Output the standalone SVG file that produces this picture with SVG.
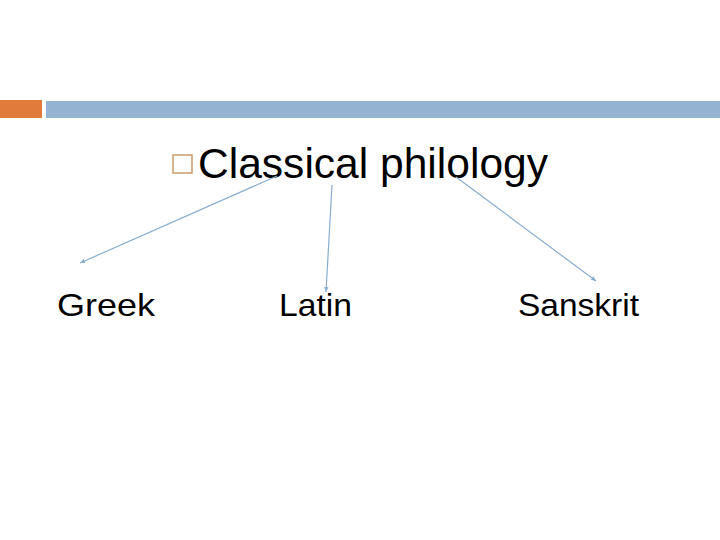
<svg xmlns="http://www.w3.org/2000/svg" width="720" height="540" viewBox="0 0 720 540">
<defs>
<style>
.t{font-family:"Liberation Sans",Arial,sans-serif;fill:#000}
.c{stroke:#8aaed0;stroke-width:1.2;fill:none;marker-end:url(#ah)}
</style>
<marker id="ah" markerWidth="6" markerHeight="6" refX="5" refY="3" orient="auto" markerUnits="userSpaceOnUse">
<path d="M0,0.8 L5,3 L0,5.2 z" fill="#8aaed0"/>
</marker>
</defs>
<rect width="720" height="540" fill="#fff"/>
<g id="header">
<rect x="0" y="100" width="42" height="18" fill="#e07b39"/>
<rect x="46" y="101" width="674" height="17" fill="#94b3d3"/>
</g>
<g id="title">
<rect x="173" y="155" width="19" height="18" fill="none" stroke="#c89a6a" stroke-width="1.5"/>
<text class="t" x="198" y="178" font-size="43" textLength="350" lengthAdjust="spacingAndGlyphs">Classical philology</text>
</g>
<g id="greek"><text class="t" x="57" y="316" font-size="32" textLength="98" lengthAdjust="spacingAndGlyphs">Greek</text></g>
<g id="latin"><text class="t" x="279" y="316" font-size="32" textLength="73" lengthAdjust="spacingAndGlyphs">Latin</text></g>
<g id="sanskrit"><text class="t" x="518" y="316" font-size="32" textLength="121" lengthAdjust="spacingAndGlyphs">Sanskrit</text></g>
<g id="connectors">
<line class="c" x1="277" y1="176" x2="80" y2="263"/>
<line class="c" x1="332" y1="185" x2="326" y2="292"/>
<line class="c" x1="456" y1="177" x2="596" y2="281"/>
</g>
</svg>
